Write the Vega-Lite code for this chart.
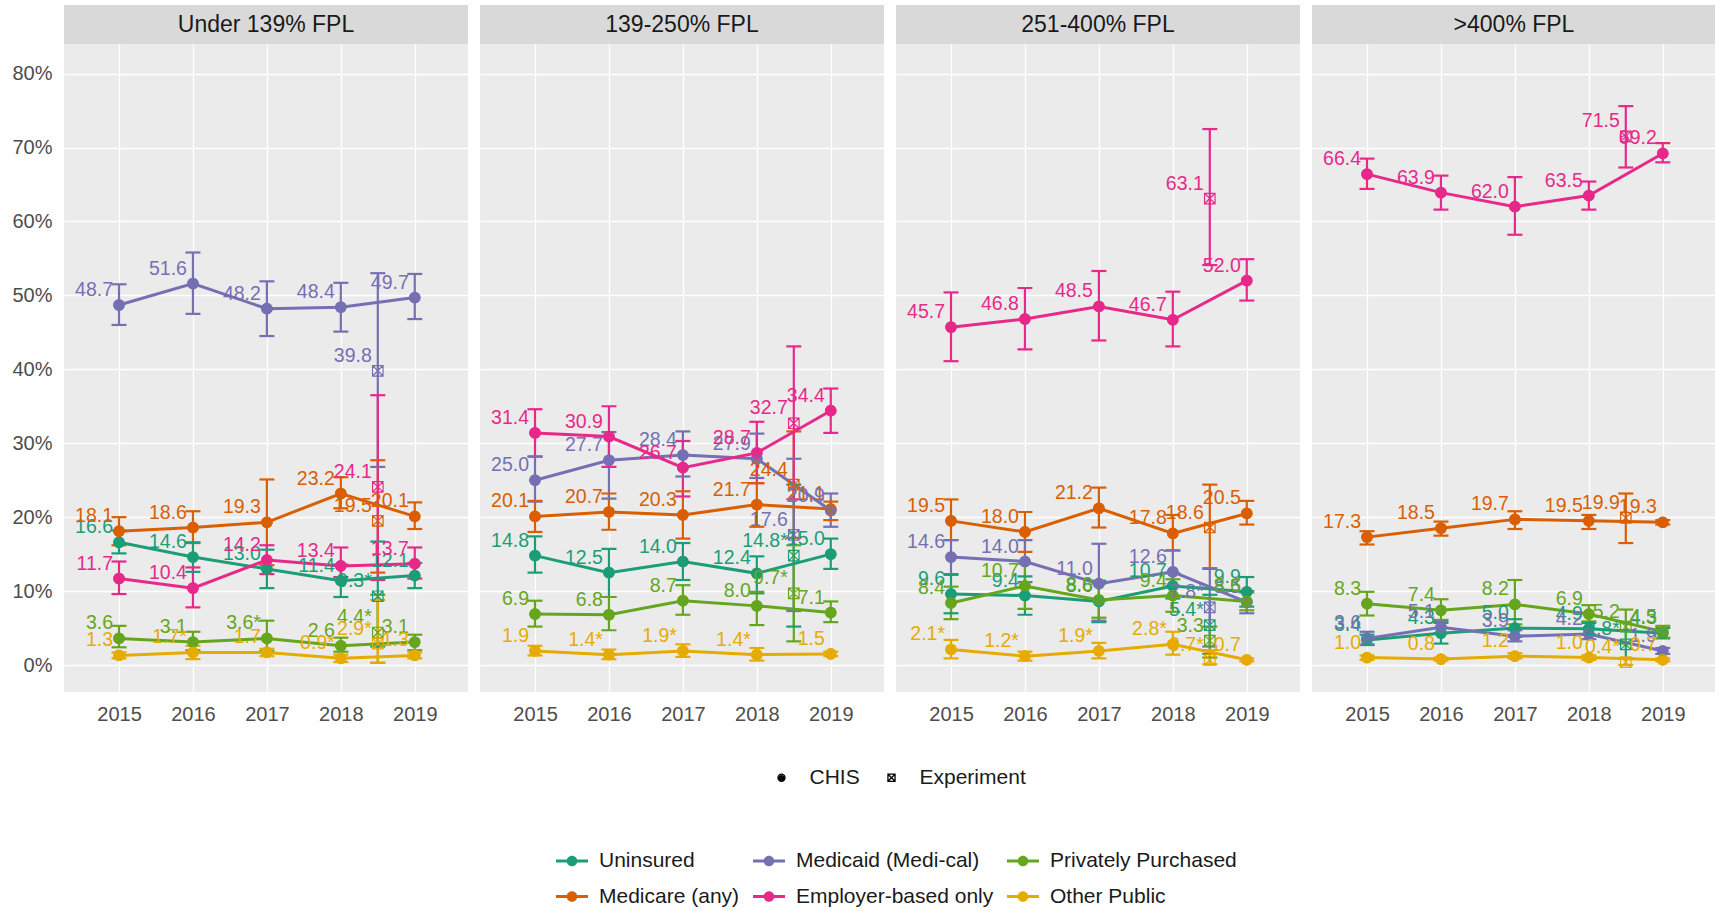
{
  "$schema": "https://vega.github.io/schema/vega-lite/v6.json",
  "background": "white",
  "padding": {"left": 11, "top": 5, "right": 0, "bottom": 0},
  "config": {
    "font": "Liberation Sans",
    "view": {"fill": "#EBEBEB", "stroke": null},
    "axis": {"domain": false, "ticks": false, "gridColor": "white", "gridWidth": 1.3, "labelColor": "#4D4D4D", "labelFontSize": 20, "labelFont": "Liberation Sans", "labelOverlap": false, "labelFlush": false, "labelBound": false, "title": null}
  },
  "data": {"values": [
    {"panel":"Under 139% FPL","cov":"Uninsured","year":2015,"src":"CHIS","pct":16.6,"lo":15.1,"hi":18.2,"lab":"16.6"},
    {"panel":"Under 139% FPL","cov":"Uninsured","year":2016,"src":"CHIS","pct":14.6,"lo":12.6,"hi":16.6,"lab":"14.6"},
    {"panel":"Under 139% FPL","cov":"Uninsured","year":2017,"src":"CHIS","pct":13.0,"lo":10.4,"hi":15.6,"lab":"13.0"},
    {"panel":"Under 139% FPL","cov":"Uninsured","year":2018,"src":"CHIS","pct":11.4,"lo":9.2,"hi":13.6,"lab":"11.4"},
    {"panel":"Under 139% FPL","cov":"Uninsured","year":2019,"src":"CHIS","pct":12.1,"lo":10.4,"hi":13.8,"lab":"12.1"},
    {"panel":"Under 139% FPL","cov":"Uninsured","year":2018.5,"src":"Experiment","pct":9.3,"lo":2.5,"hi":16.7,"lab":"9.3*"},
    {"panel":"Under 139% FPL","cov":"Medicare (any)","year":2015,"src":"CHIS","pct":18.1,"lo":16.2,"hi":20.0,"lab":"18.1"},
    {"panel":"Under 139% FPL","cov":"Medicare (any)","year":2016,"src":"CHIS","pct":18.6,"lo":16.5,"hi":20.8,"lab":"18.6"},
    {"panel":"Under 139% FPL","cov":"Medicare (any)","year":2017,"src":"CHIS","pct":19.3,"lo":13.5,"hi":25.1,"lab":"19.3"},
    {"panel":"Under 139% FPL","cov":"Medicare (any)","year":2018,"src":"CHIS","pct":23.2,"lo":21.2,"hi":25.4,"lab":"23.2"},
    {"panel":"Under 139% FPL","cov":"Medicare (any)","year":2019,"src":"CHIS","pct":20.1,"lo":18.4,"hi":22.0,"lab":"20.1"},
    {"panel":"Under 139% FPL","cov":"Medicare (any)","year":2018.5,"src":"Experiment","pct":19.5,"lo":12.5,"hi":27.7,"lab":"19.5"},
    {"panel":"Under 139% FPL","cov":"Medicaid (Medi-cal)","year":2015,"src":"CHIS","pct":48.7,"lo":46.0,"hi":51.5,"lab":"48.7"},
    {"panel":"Under 139% FPL","cov":"Medicaid (Medi-cal)","year":2016,"src":"CHIS","pct":51.6,"lo":47.5,"hi":55.8,"lab":"51.6"},
    {"panel":"Under 139% FPL","cov":"Medicaid (Medi-cal)","year":2017,"src":"CHIS","pct":48.2,"lo":44.5,"hi":51.9,"lab":"48.2"},
    {"panel":"Under 139% FPL","cov":"Medicaid (Medi-cal)","year":2018,"src":"CHIS","pct":48.4,"lo":45.1,"hi":51.7,"lab":"48.4"},
    {"panel":"Under 139% FPL","cov":"Medicaid (Medi-cal)","year":2019,"src":"CHIS","pct":49.7,"lo":46.8,"hi":52.9,"lab":"49.7"},
    {"panel":"Under 139% FPL","cov":"Medicaid (Medi-cal)","year":2018.5,"src":"Experiment","pct":39.8,"lo":26.8,"hi":53.0,"lab":"39.8"},
    {"panel":"Under 139% FPL","cov":"Employer-based only","year":2015,"src":"CHIS","pct":11.7,"lo":9.6,"hi":14.0,"lab":"11.7"},
    {"panel":"Under 139% FPL","cov":"Employer-based only","year":2016,"src":"CHIS","pct":10.4,"lo":7.8,"hi":13.2,"lab":"10.4"},
    {"panel":"Under 139% FPL","cov":"Employer-based only","year":2017,"src":"CHIS","pct":14.2,"lo":12.3,"hi":16.2,"lab":"14.2"},
    {"panel":"Under 139% FPL","cov":"Employer-based only","year":2018,"src":"CHIS","pct":13.4,"lo":11.9,"hi":15.9,"lab":"13.4"},
    {"panel":"Under 139% FPL","cov":"Employer-based only","year":2019,"src":"CHIS","pct":13.7,"lo":11.7,"hi":15.9,"lab":"13.7"},
    {"panel":"Under 139% FPL","cov":"Employer-based only","year":2018.5,"src":"Experiment","pct":24.1,"lo":11.5,"hi":36.5,"lab":"24.1"},
    {"panel":"Under 139% FPL","cov":"Privately Purchased","year":2015,"src":"CHIS","pct":3.6,"lo":2.4,"hi":5.3,"lab":"3.6"},
    {"panel":"Under 139% FPL","cov":"Privately Purchased","year":2016,"src":"CHIS","pct":3.1,"lo":2.0,"hi":4.5,"lab":"3.1"},
    {"panel":"Under 139% FPL","cov":"Privately Purchased","year":2017,"src":"CHIS","pct":3.6,"lo":1.9,"hi":6.0,"lab":"3.6*"},
    {"panel":"Under 139% FPL","cov":"Privately Purchased","year":2018,"src":"CHIS","pct":2.6,"lo":1.8,"hi":3.7,"lab":"2.6"},
    {"panel":"Under 139% FPL","cov":"Privately Purchased","year":2019,"src":"CHIS","pct":3.1,"lo":2.0,"hi":4.1,"lab":"3.1"},
    {"panel":"Under 139% FPL","cov":"Privately Purchased","year":2018.5,"src":"Experiment","pct":4.4,"lo":0.3,"hi":9.5,"lab":"4.4*"},
    {"panel":"Under 139% FPL","cov":"Other Public","year":2015,"src":"CHIS","pct":1.3,"lo":0.9,"hi":1.7,"lab":"1.3"},
    {"panel":"Under 139% FPL","cov":"Other Public","year":2016,"src":"CHIS","pct":1.7,"lo":0.8,"hi":2.6,"lab":"1.7*"},
    {"panel":"Under 139% FPL","cov":"Other Public","year":2017,"src":"CHIS","pct":1.7,"lo":1.2,"hi":2.2,"lab":"1.7"},
    {"panel":"Under 139% FPL","cov":"Other Public","year":2018,"src":"CHIS","pct":0.9,"lo":0.4,"hi":1.4,"lab":"0.9*"},
    {"panel":"Under 139% FPL","cov":"Other Public","year":2019,"src":"CHIS","pct":1.3,"lo":0.9,"hi":1.7,"lab":"1.3"},
    {"panel":"Under 139% FPL","cov":"Other Public","year":2018.5,"src":"Experiment","pct":2.9,"lo":0.3,"hi":8.8,"lab":"2.9*"},

    {"panel":"139-250% FPL","cov":"Uninsured","year":2015,"src":"CHIS","pct":14.8,"lo":12.5,"hi":17.4,"lab":"14.8"},
    {"panel":"139-250% FPL","cov":"Uninsured","year":2016,"src":"CHIS","pct":12.5,"lo":9.2,"hi":15.7,"lab":"12.5"},
    {"panel":"139-250% FPL","cov":"Uninsured","year":2017,"src":"CHIS","pct":14.0,"lo":11.5,"hi":16.5,"lab":"14.0"},
    {"panel":"139-250% FPL","cov":"Uninsured","year":2018,"src":"CHIS","pct":12.4,"lo":9.7,"hi":14.7,"lab":"12.4"},
    {"panel":"139-250% FPL","cov":"Uninsured","year":2019,"src":"CHIS","pct":15.0,"lo":13.0,"hi":17.1,"lab":"15.0"},
    {"panel":"139-250% FPL","cov":"Uninsured","year":2018.5,"src":"Experiment","pct":14.8,"lo":5.2,"hi":24.4,"lab":"14.8*"},
    {"panel":"139-250% FPL","cov":"Medicare (any)","year":2015,"src":"CHIS","pct":20.1,"lo":18.0,"hi":22.2,"lab":"20.1"},
    {"panel":"139-250% FPL","cov":"Medicare (any)","year":2016,"src":"CHIS","pct":20.7,"lo":18.3,"hi":23.2,"lab":"20.7"},
    {"panel":"139-250% FPL","cov":"Medicare (any)","year":2017,"src":"CHIS","pct":20.3,"lo":17.1,"hi":23.5,"lab":"20.3"},
    {"panel":"139-250% FPL","cov":"Medicare (any)","year":2018,"src":"CHIS","pct":21.7,"lo":18.7,"hi":24.6,"lab":"21.7"},
    {"panel":"139-250% FPL","cov":"Medicare (any)","year":2019,"src":"CHIS","pct":21.1,"lo":19.6,"hi":22.1,"lab":"21.1"},
    {"panel":"139-250% FPL","cov":"Medicare (any)","year":2018.5,"src":"Experiment","pct":24.4,"lo":17.2,"hi":31.6,"lab":"24.4"},
    {"panel":"139-250% FPL","cov":"Medicaid (Medi-cal)","year":2015,"src":"CHIS","pct":25.0,"lo":22.1,"hi":28.2,"lab":"25.0"},
    {"panel":"139-250% FPL","cov":"Medicaid (Medi-cal)","year":2016,"src":"CHIS","pct":27.7,"lo":22.5,"hi":31.5,"lab":"27.7"},
    {"panel":"139-250% FPL","cov":"Medicaid (Medi-cal)","year":2017,"src":"CHIS","pct":28.4,"lo":25.5,"hi":31.6,"lab":"28.4"},
    {"panel":"139-250% FPL","cov":"Medicaid (Medi-cal)","year":2018,"src":"CHIS","pct":27.9,"lo":25.3,"hi":31.3,"lab":"27.9"},
    {"panel":"139-250% FPL","cov":"Medicaid (Medi-cal)","year":2019,"src":"CHIS","pct":20.9,"lo":18.7,"hi":23.2,"lab":"20.9"},
    {"panel":"139-250% FPL","cov":"Medicaid (Medi-cal)","year":2018.5,"src":"Experiment","pct":17.6,"lo":7.3,"hi":27.9,"lab":"17.6"},
    {"panel":"139-250% FPL","cov":"Employer-based only","year":2015,"src":"CHIS","pct":31.4,"lo":28.2,"hi":34.6,"lab":"31.4"},
    {"panel":"139-250% FPL","cov":"Employer-based only","year":2016,"src":"CHIS","pct":30.9,"lo":26.8,"hi":35.0,"lab":"30.9"},
    {"panel":"139-250% FPL","cov":"Employer-based only","year":2017,"src":"CHIS","pct":26.7,"lo":22.8,"hi":30.3,"lab":"26.7"},
    {"panel":"139-250% FPL","cov":"Employer-based only","year":2018,"src":"CHIS","pct":28.7,"lo":24.6,"hi":32.9,"lab":"28.7"},
    {"panel":"139-250% FPL","cov":"Employer-based only","year":2019,"src":"CHIS","pct":34.4,"lo":31.4,"hi":37.4,"lab":"34.4"},
    {"panel":"139-250% FPL","cov":"Employer-based only","year":2018.5,"src":"Experiment","pct":32.7,"lo":22.4,"hi":43.1,"lab":"32.7"},
    {"panel":"139-250% FPL","cov":"Privately Purchased","year":2015,"src":"CHIS","pct":6.9,"lo":5.2,"hi":8.7,"lab":"6.9"},
    {"panel":"139-250% FPL","cov":"Privately Purchased","year":2016,"src":"CHIS","pct":6.8,"lo":4.7,"hi":9.2,"lab":"6.8"},
    {"panel":"139-250% FPL","cov":"Privately Purchased","year":2017,"src":"CHIS","pct":8.7,"lo":6.8,"hi":10.8,"lab":"8.7"},
    {"panel":"139-250% FPL","cov":"Privately Purchased","year":2018,"src":"CHIS","pct":8.0,"lo":5.4,"hi":9.9,"lab":"8.0"},
    {"panel":"139-250% FPL","cov":"Privately Purchased","year":2019,"src":"CHIS","pct":7.1,"lo":5.8,"hi":8.6,"lab":"7.1"},
    {"panel":"139-250% FPL","cov":"Privately Purchased","year":2018.5,"src":"Experiment","pct":9.7,"lo":3.2,"hi":16.2,"lab":"9.7*"},
    {"panel":"139-250% FPL","cov":"Other Public","year":2015,"src":"CHIS","pct":1.9,"lo":1.3,"hi":2.6,"lab":"1.9"},
    {"panel":"139-250% FPL","cov":"Other Public","year":2016,"src":"CHIS","pct":1.4,"lo":0.8,"hi":2.1,"lab":"1.4*"},
    {"panel":"139-250% FPL","cov":"Other Public","year":2017,"src":"CHIS","pct":1.9,"lo":1.1,"hi":2.8,"lab":"1.9*"},
    {"panel":"139-250% FPL","cov":"Other Public","year":2018,"src":"CHIS","pct":1.4,"lo":0.6,"hi":2.3,"lab":"1.4*"},
    {"panel":"139-250% FPL","cov":"Other Public","year":2019,"src":"CHIS","pct":1.5,"lo":1.2,"hi":1.8,"lab":"1.5"},

    {"panel":"251-400% FPL","cov":"Uninsured","year":2015,"src":"CHIS","pct":9.6,"lo":7.0,"hi":12.2,"lab":"9.6"},
    {"panel":"251-400% FPL","cov":"Uninsured","year":2016,"src":"CHIS","pct":9.4,"lo":6.8,"hi":12.0,"lab":"9.4"},
    {"panel":"251-400% FPL","cov":"Uninsured","year":2017,"src":"CHIS","pct":8.6,"lo":5.8,"hi":11.4,"lab":"8.6"},
    {"panel":"251-400% FPL","cov":"Uninsured","year":2018,"src":"CHIS","pct":10.7,"lo":9.0,"hi":12.4,"lab":"10.7"},
    {"panel":"251-400% FPL","cov":"Uninsured","year":2019,"src":"CHIS","pct":9.9,"lo":7.9,"hi":11.9,"lab":"9.9"},
    {"panel":"251-400% FPL","cov":"Uninsured","year":2018.5,"src":"Experiment","pct":5.4,"lo":1.5,"hi":9.5,"lab":"5.4*"},
    {"panel":"251-400% FPL","cov":"Medicare (any)","year":2015,"src":"CHIS","pct":19.5,"lo":16.9,"hi":22.4,"lab":"19.5"},
    {"panel":"251-400% FPL","cov":"Medicare (any)","year":2016,"src":"CHIS","pct":18.0,"lo":15.3,"hi":20.7,"lab":"18.0"},
    {"panel":"251-400% FPL","cov":"Medicare (any)","year":2017,"src":"CHIS","pct":21.2,"lo":18.6,"hi":24.0,"lab":"21.2"},
    {"panel":"251-400% FPL","cov":"Medicare (any)","year":2018,"src":"CHIS","pct":17.8,"lo":15.5,"hi":20.3,"lab":"17.8"},
    {"panel":"251-400% FPL","cov":"Medicare (any)","year":2019,"src":"CHIS","pct":20.5,"lo":19.0,"hi":22.2,"lab":"20.5"},
    {"panel":"251-400% FPL","cov":"Medicare (any)","year":2018.5,"src":"Experiment","pct":18.6,"lo":13.0,"hi":24.4,"lab":"18.6"},
    {"panel":"251-400% FPL","cov":"Medicaid (Medi-cal)","year":2015,"src":"CHIS","pct":14.6,"lo":12.3,"hi":16.9,"lab":"14.6"},
    {"panel":"251-400% FPL","cov":"Medicaid (Medi-cal)","year":2016,"src":"CHIS","pct":14.0,"lo":11.2,"hi":16.9,"lab":"14.0"},
    {"panel":"251-400% FPL","cov":"Medicaid (Medi-cal)","year":2017,"src":"CHIS","pct":11.0,"lo":6.0,"hi":16.4,"lab":"11.0"},
    {"panel":"251-400% FPL","cov":"Medicaid (Medi-cal)","year":2018,"src":"CHIS","pct":12.6,"lo":10.7,"hi":15.5,"lab":"12.6"},
    {"panel":"251-400% FPL","cov":"Medicaid (Medi-cal)","year":2019,"src":"CHIS","pct":8.5,"lo":7.0,"hi":10.0,"lab":"8.5"},
    {"panel":"251-400% FPL","cov":"Medicaid (Medi-cal)","year":2018.5,"src":"Experiment","pct":7.8,"lo":2.5,"hi":13.1,"lab":"7.8*"},
    {"panel":"251-400% FPL","cov":"Employer-based only","year":2015,"src":"CHIS","pct":45.7,"lo":41.1,"hi":50.4,"lab":"45.7"},
    {"panel":"251-400% FPL","cov":"Employer-based only","year":2016,"src":"CHIS","pct":46.8,"lo":42.7,"hi":51.0,"lab":"46.8"},
    {"panel":"251-400% FPL","cov":"Employer-based only","year":2017,"src":"CHIS","pct":48.5,"lo":43.9,"hi":53.3,"lab":"48.5"},
    {"panel":"251-400% FPL","cov":"Employer-based only","year":2018,"src":"CHIS","pct":46.7,"lo":43.1,"hi":50.5,"lab":"46.7"},
    {"panel":"251-400% FPL","cov":"Employer-based only","year":2019,"src":"CHIS","pct":52.0,"lo":49.3,"hi":54.9,"lab":"52.0"},
    {"panel":"251-400% FPL","cov":"Employer-based only","year":2018.5,"src":"Experiment","pct":63.1,"lo":54.1,"hi":72.5,"lab":"63.1"},
    {"panel":"251-400% FPL","cov":"Privately Purchased","year":2015,"src":"CHIS","pct":8.4,"lo":6.2,"hi":10.6,"lab":"8.4"},
    {"panel":"251-400% FPL","cov":"Privately Purchased","year":2016,"src":"CHIS","pct":10.7,"lo":7.6,"hi":13.7,"lab":"10.7"},
    {"panel":"251-400% FPL","cov":"Privately Purchased","year":2017,"src":"CHIS","pct":8.8,"lo":6.4,"hi":11.0,"lab":"8.8"},
    {"panel":"251-400% FPL","cov":"Privately Purchased","year":2018,"src":"CHIS","pct":9.4,"lo":7.2,"hi":11.6,"lab":"9.4"},
    {"panel":"251-400% FPL","cov":"Privately Purchased","year":2019,"src":"CHIS","pct":8.6,"lo":7.4,"hi":9.8,"lab":"8.6"},
    {"panel":"251-400% FPL","cov":"Privately Purchased","year":2018.5,"src":"Experiment","pct":3.3,"lo":1.0,"hi":5.2,"lab":"3.3"},
    {"panel":"251-400% FPL","cov":"Other Public","year":2015,"src":"CHIS","pct":2.1,"lo":0.9,"hi":3.4,"lab":"2.1*"},
    {"panel":"251-400% FPL","cov":"Other Public","year":2016,"src":"CHIS","pct":1.2,"lo":0.6,"hi":1.8,"lab":"1.2*"},
    {"panel":"251-400% FPL","cov":"Other Public","year":2017,"src":"CHIS","pct":1.9,"lo":0.9,"hi":3.0,"lab":"1.9*"},
    {"panel":"251-400% FPL","cov":"Other Public","year":2018,"src":"CHIS","pct":2.8,"lo":1.4,"hi":4.5,"lab":"2.8*"},
    {"panel":"251-400% FPL","cov":"Other Public","year":2019,"src":"CHIS","pct":0.7,"lo":0.5,"hi":0.9,"lab":"0.7"},
    {"panel":"251-400% FPL","cov":"Other Public","year":2018.5,"src":"Experiment","pct":0.7,"lo":0.1,"hi":2.0,"lab":"0.7*"},

    {"panel":">400% FPL","cov":"Uninsured","year":2015,"src":"CHIS","pct":3.4,"lo":2.7,"hi":4.1,"lab":"3.4"},
    {"panel":">400% FPL","cov":"Uninsured","year":2016,"src":"CHIS","pct":4.3,"lo":2.9,"hi":5.7,"lab":"4.3"},
    {"panel":">400% FPL","cov":"Uninsured","year":2017,"src":"CHIS","pct":5.0,"lo":3.8,"hi":6.2,"lab":"5.0"},
    {"panel":">400% FPL","cov":"Uninsured","year":2018,"src":"CHIS","pct":4.9,"lo":4.1,"hi":5.7,"lab":"4.9"},
    {"panel":">400% FPL","cov":"Uninsured","year":2019,"src":"CHIS","pct":4.3,"lo":3.6,"hi":5.0,"lab":"4.3"},
    {"panel":">400% FPL","cov":"Uninsured","year":2018.5,"src":"Experiment","pct":2.8,"lo":0.9,"hi":4.7,"lab":"2.8*"},
    {"panel":">400% FPL","cov":"Medicare (any)","year":2015,"src":"CHIS","pct":17.3,"lo":16.3,"hi":18.1,"lab":"17.3"},
    {"panel":">400% FPL","cov":"Medicare (any)","year":2016,"src":"CHIS","pct":18.5,"lo":17.5,"hi":19.4,"lab":"18.5"},
    {"panel":">400% FPL","cov":"Medicare (any)","year":2017,"src":"CHIS","pct":19.7,"lo":18.4,"hi":20.8,"lab":"19.7"},
    {"panel":">400% FPL","cov":"Medicare (any)","year":2018,"src":"CHIS","pct":19.5,"lo":18.4,"hi":20.3,"lab":"19.5"},
    {"panel":">400% FPL","cov":"Medicare (any)","year":2019,"src":"CHIS","pct":19.3,"lo":19.0,"hi":19.6,"lab":"19.3"},
    {"panel":">400% FPL","cov":"Medicare (any)","year":2018.5,"src":"Experiment","pct":19.9,"lo":16.5,"hi":23.2,"lab":"19.9"},
    {"panel":">400% FPL","cov":"Medicaid (Medi-cal)","year":2015,"src":"CHIS","pct":3.6,"lo":2.8,"hi":4.5,"lab":"3.6"},
    {"panel":">400% FPL","cov":"Medicaid (Medi-cal)","year":2016,"src":"CHIS","pct":5.1,"lo":4.3,"hi":5.9,"lab":"5.1"},
    {"panel":">400% FPL","cov":"Medicaid (Medi-cal)","year":2017,"src":"CHIS","pct":3.9,"lo":3.2,"hi":4.7,"lab":"3.9"},
    {"panel":">400% FPL","cov":"Medicaid (Medi-cal)","year":2018,"src":"CHIS","pct":4.2,"lo":3.5,"hi":4.9,"lab":"4.2"},
    {"panel":">400% FPL","cov":"Medicaid (Medi-cal)","year":2019,"src":"CHIS","pct":1.9,"lo":1.5,"hi":2.3,"lab":"1.9"},
    {"panel":">400% FPL","cov":"Employer-based only","year":2015,"src":"CHIS","pct":66.4,"lo":64.4,"hi":68.5,"lab":"66.4"},
    {"panel":">400% FPL","cov":"Employer-based only","year":2016,"src":"CHIS","pct":63.9,"lo":61.6,"hi":66.2,"lab":"63.9"},
    {"panel":">400% FPL","cov":"Employer-based only","year":2017,"src":"CHIS","pct":62.0,"lo":58.2,"hi":66.0,"lab":"62.0"},
    {"panel":">400% FPL","cov":"Employer-based only","year":2018,"src":"CHIS","pct":63.5,"lo":61.6,"hi":65.4,"lab":"63.5"},
    {"panel":">400% FPL","cov":"Employer-based only","year":2019,"src":"CHIS","pct":69.2,"lo":68.0,"hi":70.6,"lab":"69.2"},
    {"panel":">400% FPL","cov":"Employer-based only","year":2018.5,"src":"Experiment","pct":71.5,"lo":67.3,"hi":75.6,"lab":"71.5"},
    {"panel":">400% FPL","cov":"Privately Purchased","year":2015,"src":"CHIS","pct":8.3,"lo":6.7,"hi":9.9,"lab":"8.3"},
    {"panel":">400% FPL","cov":"Privately Purchased","year":2016,"src":"CHIS","pct":7.4,"lo":6.1,"hi":8.9,"lab":"7.4"},
    {"panel":">400% FPL","cov":"Privately Purchased","year":2017,"src":"CHIS","pct":8.2,"lo":5.5,"hi":11.5,"lab":"8.2"},
    {"panel":">400% FPL","cov":"Privately Purchased","year":2018,"src":"CHIS","pct":6.9,"lo":5.9,"hi":8.1,"lab":"6.9"},
    {"panel":">400% FPL","cov":"Privately Purchased","year":2019,"src":"CHIS","pct":4.5,"lo":3.7,"hi":5.3,"lab":"4.5"},
    {"panel":">400% FPL","cov":"Privately Purchased","year":2018.5,"src":"Experiment","pct":5.2,"lo":2.9,"hi":7.5,"lab":"5.2"},
    {"panel":">400% FPL","cov":"Other Public","year":2015,"src":"CHIS","pct":1.0,"lo":0.7,"hi":1.3,"lab":"1.0"},
    {"panel":">400% FPL","cov":"Other Public","year":2016,"src":"CHIS","pct":0.8,"lo":0.6,"hi":1.0,"lab":"0.8"},
    {"panel":">400% FPL","cov":"Other Public","year":2017,"src":"CHIS","pct":1.2,"lo":0.9,"hi":1.6,"lab":"1.2"},
    {"panel":">400% FPL","cov":"Other Public","year":2018,"src":"CHIS","pct":1.0,"lo":0.7,"hi":1.3,"lab":"1.0"},
    {"panel":">400% FPL","cov":"Other Public","year":2019,"src":"CHIS","pct":0.7,"lo":0.5,"hi":0.9,"lab":"0.7"},
    {"panel":">400% FPL","cov":"Other Public","year":2018.5,"src":"Experiment","pct":0.4,"lo":0.0,"hi":0.9,"lab":"0.4*"}
  ]},
  "facet": {"column": {"field": "panel", "type": "nominal", "sort": ["Under 139% FPL", "139-250% FPL", "251-400% FPL", ">400% FPL"], "header": {"labels": false, "title": null}, "title": null}},
  "spacing": 12,
  "spec": {
    "width": 404,
    "height": 687,
    "layer": [
      {
        "transform": [{"aggregate": [{"op": "count", "as": "n"}], "groupby": ["panel"]}],
        "mark": {"type": "rect", "clip": true, "color": "#D9D9D9"},
        "encoding": {
          "x": {"datum": 2013, "type": "quantitative", "scale": {"domain": [2014.256, 2019.72], "nice": false, "zero": false}, "axis": {"values": [2015, 2016, 2017, 2018, 2019], "format": "d", "labelPadding": 12, "grid": true}},
          "x2": {"datum": 2021},
          "y": {"datum": 84, "type": "quantitative", "scale": {"domain": [-3.65, 89.28], "nice": false, "zero": false}, "axis": {"values": [0, 10, 20, 30, 40, 50, 60, 70, 80], "labelExpr": "datum.value + '%'", "labelPadding": 12, "grid": true}},
          "y2": {"datum": 100}
        }
      },
      {
        "transform": [{"aggregate": [{"op": "count", "as": "n"}], "groupby": ["panel"]}],
        "mark": {"type": "text", "fontSize": 23, "color": "#1A1A1A", "baseline": "middle", "align": "center"},
        "encoding": {
          "x": {"datum": 2016.988, "type": "quantitative"},
          "y": {"datum": 86.64, "type": "quantitative"},
          "text": {"field": "panel"}
        }
      },
      {
        "mark": {"type": "rule", "strokeWidth": 2.2, "opacity": 1},
        "encoding": {
          "x": {"field": "year", "type": "quantitative"},
          "y": {"field": "lo", "type": "quantitative"},
          "y2": {"field": "hi"},
          "color": {"field": "cov", "type": "nominal"}
        }
      },
      {
        "mark": {"type": "tick", "orient": "horizontal", "size": 15, "thickness": 2.2, "opacity": 1},
        "encoding": {
          "x": {"field": "year", "type": "quantitative"},
          "y": {"field": "lo", "type": "quantitative"},
          "color": {"field": "cov", "type": "nominal"}
        }
      },
      {
        "mark": {"type": "tick", "orient": "horizontal", "size": 15, "thickness": 2.2, "opacity": 1},
        "encoding": {
          "x": {"field": "year", "type": "quantitative"},
          "y": {"field": "hi", "type": "quantitative"},
          "color": {"field": "cov", "type": "nominal"}
        }
      },
      {
        "transform": [{"filter": "datum.src === 'CHIS'"}],
        "mark": {"type": "line", "strokeWidth": 3, "opacity": 1},
        "encoding": {
          "x": {"field": "year", "type": "quantitative"},
          "y": {"field": "pct", "type": "quantitative"},
          "color": {"field": "cov", "type": "nominal"},
          "order": {"field": "year"}
        }
      },
      {
        "transform": [{"filter": "datum.src === 'CHIS'"}],
        "mark": {"type": "circle", "size": 130, "opacity": 1},
        "encoding": {
          "x": {"field": "year", "type": "quantitative"},
          "y": {"field": "pct", "type": "quantitative"},
          "color": {
            "field": "cov", "type": "nominal",
            "scale": {"domain": ["Uninsured", "Medicaid (Medi-cal)", "Privately Purchased", "Medicare (any)", "Employer-based only", "Other Public"], "range": ["#1B9E77", "#7570B3", "#66A61E", "#D95F02", "#E7298A", "#E6AB02"]},
            "legend": {"orient": "none", "legendX": 492, "legendY": 840, "direction": "horizontal", "columns": 3, "title": null, "labelFontSize": 21, "labelColor": "#1A1A1A", "labelLimit": 0, "symbolType": "M-1,-0.095H1V0.095H-1Z M-0.33,0A0.33,0.33 0 1,1 0.33,0A0.33,0.33 0 1,1 -0.33,0Z", "symbolSize": 1024, "symbolStrokeWidth": 0, "symbolOpacity": 1, "labelOffset": 11, "columnPadding": 13, "rowPadding": 9.5, "padding": 0}
          }
        }
      },
      {
        "mark": {"type": "point", "filled": false, "strokeWidth": 1.2, "size": 110, "opacity": 1},
        "encoding": {
          "x": {"field": "year", "type": "quantitative"},
          "y": {"field": "pct", "type": "quantitative"},
          "color": {"field": "cov", "type": "nominal"},
          "shape": {
            "field": "src", "type": "nominal",
            "scale": {"domain": ["CHIS", "Experiment"], "range": ["M-1,0A1,1 0 1,0 1,0A1,1 0 1,0 -1,0Z M-0.62,0A0.62,0.62 0 1,0 0.62,0A0.62,0.62 0 1,0 -0.62,0Z M-0.25,0A0.25,0.25 0 1,0 0.25,0A0.25,0.25 0 1,0 -0.25,0Z", "M-1,-1H1V1H-1Z M-1,-1L1,1 M-1,1L1,-1"]},
            "legend": {"orient": "none", "legendX": 707, "legendY": 762, "direction": "horizontal", "title": null, "labelFontSize": 21, "labelColor": "#1A1A1A", "labelOffset": 17.5, "columnPadding": 21, "symbolSize": 50, "symbolStrokeColor": "black", "symbolFillColor": "transparent", "symbolStrokeWidth": 1.3, "symbolOpacity": 1, "padding": 0}
          }
        }
      },
      {
        "mark": {"type": "text", "fontSize": 19.5, "align": "right", "baseline": "alphabetic", "dx": -6, "dy": -9, "opacity": 1},
        "encoding": {
          "x": {"field": "year", "type": "quantitative"},
          "y": {"field": "pct", "type": "quantitative"},
          "text": {"field": "lab"},
          "color": {"field": "cov", "type": "nominal"}
        }
      }
    ]
  }
}
